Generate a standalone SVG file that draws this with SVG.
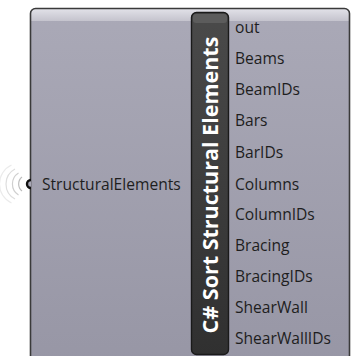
<svg xmlns="http://www.w3.org/2000/svg" width="351" height="356" viewBox="0 0 351 356">
  <defs>
    <linearGradient id="bodyFill" x1="0" y1="0" x2="0" y2="1">
      <stop offset="0" stop-color="#aaa9b7"/>
      <stop offset="1" stop-color="#9796a5"/>
    </linearGradient>
    <linearGradient id="topBand" x1="0" y1="0" x2="0" y2="1">
      <stop offset="0" stop-color="#e4e4ea"/>
      <stop offset="1" stop-color="#c4c3cd"/>
    </linearGradient>
    <linearGradient id="barFill" x1="0" y1="0" x2="0" y2="1">
      <stop offset="0" stop-color="#4a4a4a"/>
      <stop offset="1" stop-color="#303030"/>
    </linearGradient>
    <clipPath id="bodyClip">
      <rect x="30.5" y="8.5" width="319" height="360" rx="5"/>
    </clipPath>
  </defs>
  <style>
    .lbl { font-family: "Open Sans", "Noto Sans", "DejaVu Sans", sans-serif; font-size: 15.6px; fill: #1e1e1e; }
    .title { font-family: "Open Sans", "Noto Sans", "DejaVu Sans", sans-serif; font-size: 21.5px; font-weight: bold; fill: #ffffff; }
    .wave { fill: none; stroke-width: 1.2; }
  </style>

  <g id="connectors"></g>

  <g id="sort-component">
    <!-- body -->
    <g clip-path="url(#bodyClip)">
      <rect x="30" y="8" width="320" height="360" fill="url(#bodyFill)"/>
      <rect x="30" y="8" width="320" height="13" fill="url(#topBand)"/>
    </g>
    <rect x="30.5" y="8.5" width="319" height="360" rx="5" fill="none" stroke="#3a3a3a" stroke-width="1.6"/>

    <!-- title bar -->
    <rect x="191.5" y="12.5" width="37" height="342" rx="5" fill="url(#barFill)" stroke="#1a1a1a" stroke-width="1.4"/>
    <rect x="193" y="14" width="34" height="9" rx="3" fill="#5c5c5c"/>
    <text class="title" transform="translate(218 185) rotate(-90)" text-anchor="middle">C# Sort Structural Elements</text>

    <!-- input parameter -->
    <g id="input-grip">
      <path class="wave" stroke="#bdbdbd" d="M22 177 A9 9 0 0 0 22 191"/>
      <path class="wave" stroke="#cfcfcf" d="M18.5 173 A13 13 0 0 0 18.5 195"/>
      <path class="wave" stroke="#dedede" d="M15 169 A17 17 0 0 0 15 199"/>
      <path class="wave" stroke="#ebebeb" d="M11.5 165 A21 21 0 0 0 11.5 203"/>
      <path d="M31 180 A4 4 0 0 0 31 188" fill="#a9a8b6" stroke="#111" stroke-width="2.4"/>
    </g>
    <text class="lbl" x="42" y="190">StructuralElements</text>

    <!-- output parameters -->
    <text class="lbl" x="235" y="33">out</text>
    <text class="lbl" x="235" y="64">Beams</text>
    <text class="lbl" x="235" y="95">BeamIDs</text>
    <text class="lbl" x="235" y="126">Bars</text>
    <text class="lbl" x="235" y="158">BarIDs</text>
    <text class="lbl" x="235" y="190">Columns</text>
    <text class="lbl" x="235" y="220">ColumnIDs</text>
    <text class="lbl" x="235" y="251">Bracing</text>
    <text class="lbl" x="235" y="282">BracingIDs</text>
    <text class="lbl" x="235" y="313">ShearWall</text>
    <text class="lbl" x="235" y="344">ShearWallIDs</text>
  </g>
</svg>
